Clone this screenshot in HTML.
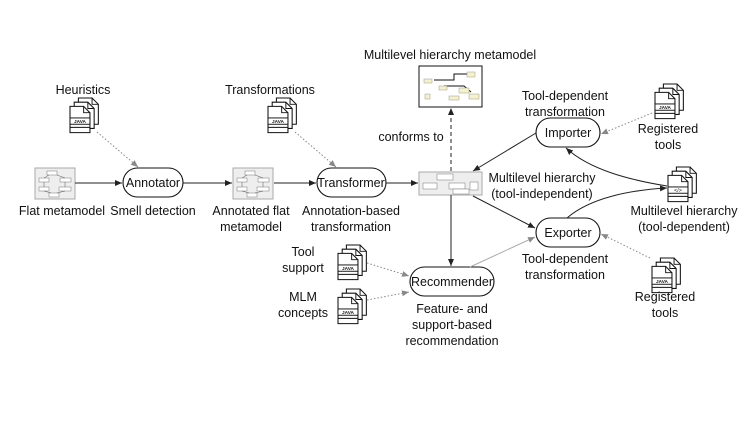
<!DOCTYPE html>
<html><head><meta charset="utf-8"><style>
html,body{margin:0;padding:0;background:#fff;}
svg{display:block;}
text{font-family:"Liberation Sans",sans-serif;font-size:12.5px;fill:#111;text-anchor:middle;}
</style></head><body>
<svg width="740" height="434" viewBox="0 0 740 434" xmlns="http://www.w3.org/2000/svg">
<defs>
<marker id="ah" markerWidth="8" markerHeight="8" refX="7" refY="4" orient="auto" markerUnits="userSpaceOnUse">
<path d="M0,1 L7,4 L0,7 z" fill="#222"/></marker>
<marker id="ahg" markerWidth="8" markerHeight="8" refX="7" refY="4" orient="auto" markerUnits="userSpaceOnUse">
<path d="M0,1 L7,4 L0,7 z" fill="#888"/></marker>
<g id="page">
<path d="M0,0 H13 L19,6 V25 H0 Z" fill="#fff" stroke="#111" stroke-width="1"/>
<path d="M13,0 V6 H19" fill="none" stroke="#111" stroke-width="0.9"/>
</g>
<g id="java">
<use href="#page" x="8" y="0"/><use href="#page" x="4" y="4"/><use href="#page" x="0" y="8"/>
<rect x="0" y="19" width="19" height="6" fill="#fff" stroke="#111" stroke-width="0.9"/>
<text x="9.5" y="24" style="font-size:4.5px;font-weight:bold">JAVA</text>
<line x1="0" y1="28" x2="19" y2="28" stroke="#111" stroke-width="0.9"/>
</g>
<g id="xml">
<use href="#page" x="8" y="0"/><use href="#page" x="4" y="4"/><use href="#page" x="0" y="8"/>
<rect x="0" y="19" width="19" height="6" fill="#fff" stroke="#111" stroke-width="0.9"/>
<text x="9.5" y="24" style="font-size:5px">&lt;/&gt;</text>
<line x1="0" y1="28" x2="19" y2="28" stroke="#111" stroke-width="0.9"/>
</g>
<g id="mini">
<rect x="0" y="0" width="40" height="31" fill="#eee" stroke="#aaa"/>
<rect x="12" y="3" width="10" height="4" fill="#fff" stroke="#777" stroke-width=".5"/>
<rect x="4" y="10" width="10" height="4" fill="#fff" stroke="#777" stroke-width=".5"/>
<rect x="25" y="10" width="11" height="4" fill="#fff" stroke="#777" stroke-width=".5"/>
<rect x="4" y="19" width="10" height="4" fill="#fff" stroke="#777" stroke-width=".5"/>
<rect x="24" y="19" width="12" height="4" fill="#fff" stroke="#777" stroke-width=".5"/>
<rect x="14" y="25" width="10" height="4" fill="#fff" stroke="#777" stroke-width=".5"/>
<path d="M14,7 L9,10 M22,7 L30,10 M9,14 V19 M30,14 V19 M9,23 L16,25 M30,23 L22,25" stroke="#555" stroke-width=".5"/>
</g>
</defs>

<use href="#mini" x="35" y="168"/>
<use href="#mini" x="233" y="168"/>
<g transform="translate(419,172)">
<rect width="63" height="23" fill="#eee" stroke="#aaa"/>
<rect x="18" y="2" width="16" height="6" fill="#fff" stroke="#777" stroke-width=".5"/>
<rect x="4" y="11" width="14" height="6" fill="#fff" stroke="#777" stroke-width=".5"/>
<rect x="30" y="11" width="16" height="6" fill="#fff" stroke="#777" stroke-width=".5"/>
<rect x="34" y="17" width="16" height="5" fill="#fff" stroke="#777" stroke-width=".5"/>
<rect x="51" y="10" width="8" height="8" fill="#fff" stroke="#777" stroke-width=".5"/>
</g>
<g transform="translate(419,66)">
<rect width="63" height="41" fill="#fff" stroke="#111" stroke-width="1"/>
<path d="M15,14 H35 V8 H50" stroke="#111" stroke-width="1" fill="none"/>
<path d="M25,20 H45 L52,26" stroke="#111" stroke-width="1" fill="none"/>
<rect x="5" y="13" width="8" height="4" fill="#f5f2c8" stroke="#999" stroke-width=".5"/>
<rect x="48" y="6" width="8" height="5" fill="#f5f2c8" stroke="#999" stroke-width=".5"/>
<rect x="20" y="20" width="8" height="4" fill="#f5f2c8" stroke="#999" stroke-width=".5"/>
<rect x="40" y="22" width="10" height="5" fill="#f5f2c8" stroke="#999" stroke-width=".5"/>
<rect x="50" y="28" width="10" height="5" fill="#f5f2c8" stroke="#999" stroke-width=".5"/>
<rect x="6" y="28" width="5" height="5" fill="#f5f2c8" stroke="#999" stroke-width=".5"/>
<rect x="30" y="30" width="10" height="4" fill="#f5f2c8" stroke="#999" stroke-width=".5"/>
</g>

<use href="#java" transform="translate(70,98) scale(1.05)"/>
<use href="#java" transform="translate(268,98) scale(1.05)"/>
<use href="#java" transform="translate(655,84) scale(1.05)"/>
<use href="#java" transform="translate(652,258) scale(1.05)"/>
<use href="#java" transform="translate(338,245) scale(1.05)"/>
<use href="#java" transform="translate(338,289) scale(1.05)"/>
<use href="#xml" transform="translate(668,167) scale(1.05)"/>

<g fill="#fff" stroke="#111" stroke-width="1.1">
<rect x="123" y="168" width="60" height="29" rx="14.5"/>
<rect x="317" y="168" width="69" height="29" rx="14.5"/>
<rect x="536" y="118" width="64" height="29" rx="14.5"/>
<rect x="536" y="218" width="64" height="29" rx="14.5"/>
<rect x="410" y="267" width="84" height="29" rx="14.5"/>
</g>
<text x="153" y="187" style="font-size:12.5px">Annotator</text>
<text x="351" y="187" style="font-size:12.5px">Transformer</text>
<text x="568" y="137" style="font-size:12.5px">Importer</text>
<text x="568" y="237" style="font-size:12.5px">Exporter</text>
<text x="452" y="286" style="font-size:12.5px">Recommender</text>

<g stroke="#222" stroke-width="1" fill="none">
<line x1="75" y1="183" x2="122" y2="183" marker-end="url(#ah)"/>
<line x1="183" y1="183" x2="232" y2="183" marker-end="url(#ah)"/>
<line x1="274" y1="183" x2="316" y2="183" marker-end="url(#ah)"/>
<line x1="386" y1="183" x2="418" y2="183" marker-end="url(#ah)"/>
<line x1="536" y1="133" x2="473" y2="171" marker-end="url(#ah)"/>
<line x1="473" y1="196" x2="535" y2="228" marker-end="url(#ah)"/>
<line x1="451" y1="195" x2="451" y2="266" marker-end="url(#ah)"/>
<path d="M667,186 C630,180 590,170 566,148" marker-end="url(#ah)"/>
<path d="M567,218 C590,198 630,190 667,188" marker-end="url(#ah)"/>
<line x1="451" y1="171" x2="451" y2="108" stroke-dasharray="4,3" marker-end="url(#ah)"/>
</g>
<line x1="470" y1="267" x2="535" y2="237" stroke="#aaa" stroke-width="1" marker-end="url(#ahg)"/>
<g stroke="#888" stroke-width="1" fill="none" stroke-dasharray="1.5,2">
<line x1="97" y1="132" x2="138" y2="167" marker-end="url(#ahg)"/>
<line x1="295" y1="132" x2="336" y2="167" marker-end="url(#ahg)"/>
<line x1="652" y1="113" x2="601" y2="134" marker-end="url(#ahg)"/>
<line x1="650" y1="258" x2="601" y2="234" marker-end="url(#ahg)"/>
<line x1="367" y1="263" x2="409" y2="276" marker-end="url(#ahg)"/>
<line x1="367" y1="300" x2="409" y2="292" marker-end="url(#ahg)"/>
</g>

<text x="83" y="94">Heuristics</text>
<text x="270" y="94">Transformations</text>
<text x="450" y="59">Multilevel hierarchy metamodel</text>
<text x="62" y="215">Flat metamodel</text>
<text x="153" y="215">Smell detection</text>
<text x="251" y="215">Annotated flat</text>
<text x="251" y="231">metamodel</text>
<text x="351" y="215">Annotation-based</text>
<text x="351" y="231">transformation</text>
<text x="411" y="141">conforms to</text>
<text x="542" y="182">Multilevel hierarchy</text>
<text x="542" y="198">(tool-independent)</text>
<text x="565" y="100">Tool-dependent</text>
<text x="565" y="116">transformation</text>
<text x="668" y="133">Registered</text>
<text x="668" y="149">tools</text>
<text x="684" y="215">Multilevel hierarchy</text>
<text x="684" y="231">(tool-dependent)</text>
<text x="565" y="263">Tool-dependent</text>
<text x="565" y="279">transformation</text>
<text x="665" y="301">Registered</text>
<text x="665" y="317">tools</text>
<text x="303" y="256">Tool</text>
<text x="303" y="272">support</text>
<text x="303" y="301">MLM</text>
<text x="303" y="317">concepts</text>
<text x="452" y="313">Feature- and</text>
<text x="452" y="329">support-based</text>
<text x="452" y="345">recommendation</text>
</svg>
</body></html>
